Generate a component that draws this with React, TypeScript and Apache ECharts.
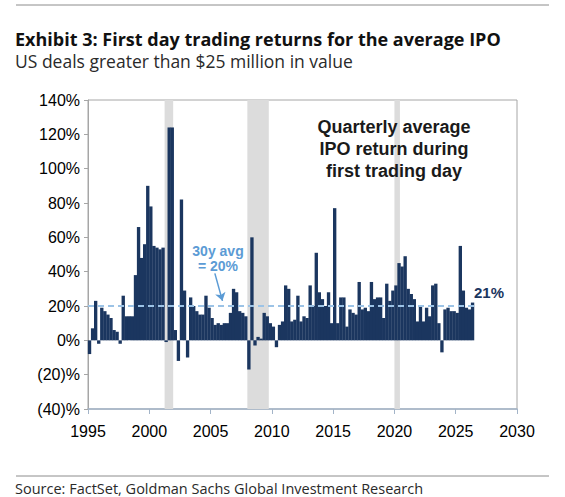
import React, { useEffect, useRef } from "react";
import * as echarts from "echarts";

// ---------- DATA ----------
const START_YEAR = 1995; // first quarter shown: 1995 Q1
// Average first-day return (%) of US IPOs > $25mn, one value per quarter from 1995 Q1
const quarterlyReturns: number[] = [
  -8, 7, 23, -2, 19, 17, 15, 13, 6, 5, -2, 26, 14, 14, 14, 38,
  66, 48, 56, 90, 78, 55, 54, 53, 54, -1, 124, 124, 6, -12, 82, 29,
  -10, 25, 20, 17, 15, 15, 26, 19, 13, 9, 10, 9, 10, 10, 16, 30,
  28, 17, 16, 14, -17, 60, -3, 2, 1, 16, 14, 10, 8, -4, 9, 11,
  32, 30, 11, 12, 26, 11, 14, 13, 32, 20, 51, 28, 24, 20, 28, 10,
  77, 10, 25, 25, 8, 18, 16, 15, 34, 18, 19, 17, 34, 24, 25, 25,
  13, 33, 23, 29, 32, 45, 43, 49, 30, 27, 24, 11, 20, 11, 19, 14,
  32, 33, 10, -7, 18, 19, 17, 17, 16, 55, 29, 19, 18, 22,
];
const xTickYears = [1995, 2000, 2005, 2010, 2015, 2020, 2025, 2030];
const yTicks = [-40, -20, 0, 20, 40, 60, 80, 100, 120, 140];
const recessions: [number, number][] = [
  [2001.25, 2001.95],
  [2008.0, 2009.75],
  [2020.0, 2020.45],
];
const avg30y = 20;
const latestLabel = "21%";
const avgLabel = ["30y avg", "= 20%"];
const noteLines = ["Quarterly average", "IPO return during", "first trading day"];
const titleText = "Exhibit 3: First day trading returns for the average IPO";
const subtitleText = "US deals greater than $25 million in value";
const sourceText = "Source: FactSet, Goldman Sachs Global Investment Research";

// ---------- STYLE ----------
const NAVY = "#1b365f";
const LIGHT_BLUE = "#5b9bd5";
const DASH_BLUE = "#9cc3e6";
const AXIS_FONT = "'Liberation Sans', Arial, sans-serif";
const TEXT_FONT = "'Open Sans', 'Noto Sans', sans-serif";

export default function App() {
  const ref = useRef<HTMLDivElement>(null);

  useEffect(() => {
    if (!ref.current) return;
    const chart = echarts.init(ref.current, undefined, { renderer: "svg" });

    const barData = quarterlyReturns.map((v, i) => [START_YEAR + (i + 0.5) / 4, v]);
    const lastX = START_YEAR + quarterlyReturns.length / 4;
    const xMin = xTickYears[0];
    const xMax = xTickYears[xTickYears.length - 1];

    const fmtPct = (v: number) => (v < 0 ? `(${-v})%` : `${v}%`);

    chart.setOption({
      animation: false,
      grid: {
        left: 88,
        right: 48,
        top: 100,
        bottom: 88,
        show: true,
        borderColor: "#a6a6a6",
        borderWidth: 1,
        backgroundColor: "transparent",
      },
      xAxis: [
        {
          type: "value",
          min: xMin,
          max: xMax,
          interval: 5,
          position: "bottom",
          axisLine: { show: false },
          axisTick: { show: false },
          splitLine: { show: false },
          axisLabel: {
            formatter: (v: number) => String(v),
            fontFamily: AXIS_FONT,
            fontSize: 16,
            color: "#000",
            margin: 14,
          },
        },
        {
          type: "value",
          min: xMin,
          max: xMax,
          interval: 5,
          position: "bottom",
          axisLine: { show: true, onZero: true, lineStyle: { color: "#a3b4c8", width: 1.5 } },
          axisTick: { show: true, length: 5, lineStyle: { color: "#a3b4c8" } },
          axisLabel: { show: false },
          splitLine: { show: false },
        },
      ],
      yAxis: {
        type: "value",
        min: yTicks[0],
        max: yTicks[yTicks.length - 1],
        interval: 20,
        axisLine: { show: true, lineStyle: { color: "#a6a6a6" } },
        axisTick: { show: true, length: 4, lineStyle: { color: "#a6a6a6" } },
        splitLine: { show: false },
        axisLabel: {
          formatter: fmtPct,
          fontFamily: AXIS_FONT,
          fontSize: 16,
          color: "#000",
          margin: 8,
        },
      },
      series: [
        {
          type: "line",
          data: [],
          z: 1,
          silent: true,
          markArea: {
            silent: true,
            itemStyle: { color: "#dcdcdc" },
            data: recessions.map(([a, b]) => [{ xAxis: a }, { xAxis: b }]),
          },
        },
        {
          name: "returns",
          type: "bar",
          data: barData,
          barWidth: 3.35,
          z: 3,
          itemStyle: { color: NAVY },
          markLine: {
            silent: true,
            symbol: "none",
            label: { show: false },
            lineStyle: { color: DASH_BLUE, type: [6, 4], width: 2 },
            data: [[{ coord: [xMin, avg30y] }, { coord: [lastX, avg30y] }]],
          },
        },
        {
          type: "line",
          data: [],
          z: 4,
          silent: true,
          markLine: {
            silent: true,
            symbol: ["none", "arrow"],
            symbolSize: 8,
            label: { show: false },
            lineStyle: { color: LIGHT_BLUE, type: "solid", width: 1.5 },
            data: [[{ coord: [2005.35, 39] }, { coord: [2005.97, 23] }]],
          },
        },
      ],
      graphic: [
        {
          type: "line",
          shape: { x1: 16, y1: 5, x2: 549, y2: 5 },
          style: { stroke: "#8c8c8c", lineWidth: 1 },
        },
        {
          type: "text",
          x: 15,
          y: 39,
          style: {
            text: titleText,
            font: `bold 18px ${TEXT_FONT}`,
            fill: "#111",
            textVerticalAlign: "middle",
          },
        },
        {
          type: "text",
          x: 15,
          y: 61,
          style: {
            text: subtitleText,
            font: `17.5px ${TEXT_FONT}`,
            fill: "#2a2a2a",
            textVerticalAlign: "middle",
          },
        },
        ...noteLines.map((t, k) => ({
          type: "text",
          x: 394,
          y: 127 + k * 22,
          z: 10,
          style: {
            text: t,
            font: `bold 18px ${AXIS_FONT}`,
            fill: "#1a1a1a",
            textAlign: "center",
            textVerticalAlign: "middle",
          },
        })),
        ...avgLabel.map((t, k) => ({
          type: "text",
          x: 218,
          y: 251 + k * 15,
          z: 10,
          style: {
            text: t,
            font: `bold 14px ${AXIS_FONT}`,
            fill: LIGHT_BLUE,
            textAlign: "center",
            textVerticalAlign: "middle",
          },
        })),
        {
          type: "text",
          x: 474,
          y: 292,
          z: 10,
          style: {
            text: latestLabel,
            font: `bold 15px ${AXIS_FONT}`,
            fill: NAVY,
            textVerticalAlign: "middle",
          },
        },
        {
          type: "line",
          shape: { x1: 16, y1: 476, x2: 549, y2: 476 },
          style: { stroke: "#8c8c8c", lineWidth: 1 },
        },
        {
          type: "text",
          x: 15,
          y: 488,
          style: {
            text: sourceText,
            font: `14.5px ${TEXT_FONT}`,
            fill: "#2a2a2a",
            textVerticalAlign: "middle",
          },
        },
      ],
    });

    return () => chart.dispose();
  }, []);

  return (
    <div
      ref={ref}
      style={{ position: "fixed", left: 0, top: 0, width: 565, height: 497, background: "#fff" }}
    />
  );
}
